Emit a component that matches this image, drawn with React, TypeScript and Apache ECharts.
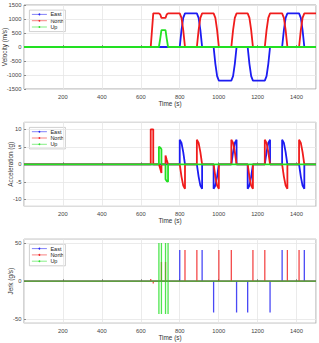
import { useEffect, useRef } from "react";
import * as echarts from "echarts";

type Pt = [number, number];

// Component names and their line colours
const NAMES = ["East", "North", "Up"];
const COLORS = ["#1c1cf2", "#f01c1c", "#22e022"];

// Shared time axis (s)
const TIME_RANGE: [number, number] = [0, 1500];
const TIME_STEP = 200;

// Velocity (m/s)
const velEast: Pt[] = [
  [0, 0], [800, 0], [809, 600], [818, 1040], [827, 1200],
  [888, 1200], [897, 1040], [906, 600], [915, 0],
  [974, 0], [983, -600], [992, -1040], [1001, -1200],
  [1065, -1200], [1074, -1040], [1083, -600], [1092, 0],
  [1149, 0], [1158, -600], [1167, -1040], [1176, -1200],
  [1237, -1200], [1246, -1040], [1255, -600], [1264, 0],
  [1326, 0], [1335, 600], [1344, 1040], [1353, 1200],
  [1413, 1200], [1422, 1040], [1431, 600], [1440, 0],
  [1500, 0],
];
const velNorth: Pt[] = [
  [0, 0], [651, 0], [664, 1200],
  [693, 1200], [700, 1160], [706, 1040], [727, 1040], [733, 1160], [740, 1200],
  [800, 1200], [809, 1040], [818, 600], [827, 0],
  [888, 0], [897, 600], [906, 1040], [915, 1200],
  [974, 1200], [983, 1040], [992, 600], [1001, 0],
  [1065, 0], [1074, 600], [1083, 1040], [1092, 1200],
  [1149, 1200], [1158, 1040], [1167, 600], [1176, 0],
  [1237, 0], [1246, 600], [1255, 1040], [1264, 1200],
  [1326, 1200], [1335, 1040], [1344, 600], [1353, 0],
  [1413, 0], [1422, 600], [1431, 1040], [1440, 1200],
  [1500, 1200],
];
const velUp: Pt[] = [
  [0, 0], [693, 0], [700, 310], [706, 600], [727, 600], [733, 310], [740, 0], [1500, 0],
];

// Acceleration (g)
const accEast: Pt[] = [
  [0, 0],
  [800, 0], [800, 7], [809, 6.1], [818, 3.5], [827, 0],
  [888, 0], [897, -3.5], [906, -6.1], [915, -7], [915, 0],
  [974, 0], [974, -7], [983, -6.1], [992, -3.5], [1001, 0],
  [1065, 0], [1074, 3.5], [1083, 6.1], [1092, 7], [1092, 0],
  [1149, 0], [1149, -7], [1158, -6.1], [1167, -3.5], [1176, 0],
  [1237, 0], [1246, 3.5], [1255, 6.1], [1264, 7], [1264, 0],
  [1326, 0], [1326, 7], [1335, 6.1], [1344, 3.5], [1353, 0],
  [1413, 0], [1422, -3.5], [1431, -6.1], [1440, -7], [1440, 0],
  [1500, 0],
];
const accNorth: Pt[] = [
  [0, 0], [651, 0], [651, 10], [664, 10], [664, 0],
  [693, 0], [700, -1.3], [706, -2.5], [706, 0],
  [727, 0], [727, 2.5], [733, 1.3], [740, 0],
  [800, 0], [809, -3.5], [818, -6.1], [827, -7], [827, 0],
  [888, 0], [888, 7], [897, 6.1], [906, 3.5], [915, 0],
  [974, 0], [983, -3.5], [992, -6.1], [1001, -7], [1001, 0],
  [1065, 0], [1065, 7], [1074, 6.1], [1083, 3.5], [1092, 0],
  [1149, 0], [1158, -3.5], [1167, -6.1], [1176, -7], [1176, 0],
  [1237, 0], [1237, 7], [1246, 6.1], [1255, 3.5], [1264, 0],
  [1326, 0], [1335, -3.5], [1344, -6.1], [1353, -7], [1353, 0],
  [1413, 0], [1413, 7], [1422, 6.1], [1431, 3.5], [1440, 0],
  [1500, 0],
];
const accUp: Pt[] = [
  [0, 0], [693, 0], [693, 5], [700, 4.8], [706, 4.3], [706, 0],
  [727, 0], [727, -4.3], [733, -4.8], [740, -5], [740, 0], [1500, 0],
];

// Jerk (g/s)
const jerkEast: Pt[] = [
  [0, 0],
  [800, 0], [800, 41], [800, 0],
  [915, 0], [915, 41], [915, 0],
  [974, 0], [974, -41], [974, 0],
  [1092, 0], [1092, -41], [1092, 0],
  [1149, 0], [1149, -41], [1149, 0],
  [1264, 0], [1264, -41], [1264, 0],
  [1326, 0], [1326, 41], [1326, 0],
  [1440, 0], [1440, 41], [1440, 0],
  [1500, 0],
];
const jerkNorth: Pt[] = [
  [0, 0], [651, 0], [651, 3], [651, 0], [664, 0], [664, -3], [664, 0],
  [706, 0], [706, 25], [706, 0], [727, 0], [727, 25], [727, 0],
  [827, 0], [827, 41], [827, 0],
  [888, 0], [888, 41], [888, 0],
  [1001, 0], [1001, 41], [1001, 0],
  [1065, 0], [1065, 41], [1065, 0],
  [1176, 0], [1176, 41], [1176, 0],
  [1237, 0], [1237, 41], [1237, 0],
  [1353, 0], [1353, 41], [1353, 0],
  [1413, 0], [1413, 41], [1413, 0],
  [1500, 0],
];
const jerkUp: Pt[] = [
  [0, 0],
  [693, 0], [693, 50], [693, -43], [693, 0],
  [706, 0], [706, 50], [706, -43], [706, 0],
  [727, 0], [727, 50], [727, -43], [727, 0],
  [740, 0], [740, 50], [740, -43], [740, 0],
  [1500, 0],
];

// Panel settings: y range, tick step, axis title, line look
const PANELS = [
  { title: "Velocity (m/s)", range: [-1500, 1500], step: 500, ends: true, gap: 17, width: 1.8, opacity: 1, data: [velEast, velNorth, velUp] },
  { title: "Acceleration (g)", range: [-12, 12], step: 5, ends: false, gap: 10.5, width: 1.8, opacity: 1, data: [accEast, accNorth, accUp] },
  { title: "Jerk (g/s)", range: [-55, 55], step: 50, ends: false, gap: 11, width: 1.3, opacity: 0.8, data: [jerkEast, jerkNorth, jerkUp] },
];

const FONT = "Liberation Sans, Arial, Helvetica, sans-serif";
const GRID_LEFT = 24;
const GRID_WIDTH = 292;
const GRID_HEIGHT = 84;
const GRID_TOPS = [5, 122.3, 239.2];
const TICK_FONT = 5.8;
const NAME_FONT = 6.4;
const LEGEND_FONT = 5.5;

function legendBox(top: number) {
  const children: any[] = [
    {
      type: "rect",
      shape: { x: 0, y: 0, width: 36, height: 21.5 },
      style: { fill: "#ffffff", stroke: "#c4c4c4", lineWidth: 0.8 },
    },
  ];
  NAMES.forEach((name, k) => {
    const y = 4.3 + k * 6.3;
    children.push(
      {
        type: "line",
        shape: { x1: 2.5, y1: y, x2: 17.5, y2: y },
        style: { stroke: COLORS[k], lineWidth: 1, opacity: 0.55 },
      },
      {
        type: "circle",
        shape: { cx: 10, cy: y, r: 0.9 },
        style: { fill: COLORS[k], opacity: 0.9 },
      },
      {
        type: "text",
        x: 21,
        y,
        style: {
          text: name,
          fontSize: LEGEND_FONT,
          fontFamily: FONT,
          fill: "#222",
          verticalAlign: "middle",
          align: "left",
        },
      }
    );
  });
  return { type: "group", left: 29, top: top + 4.7, children, z: 100 };
}

export default function App() {
  const ref = useRef<HTMLDivElement>(null);

  useEffect(() => {
    if (!ref.current) return;
    const chart = echarts.init(ref.current, undefined, { renderer: "svg" });

    const grid = GRID_TOPS.map((top) => ({
      left: GRID_LEFT,
      top,
      width: GRID_WIDTH,
      height: GRID_HEIGHT,
      outerBoundsMode: "none",
      containLabel: false,
      show: true,
      backgroundColor: "#ffffff",
      borderColor: "#a9a9a9",
      borderWidth: 1,
    }));

    const xAxis = PANELS.map((_, i) => ({
      type: "value",
      gridIndex: i,
      min: TIME_RANGE[0],
      max: TIME_RANGE[1],
      interval: TIME_STEP,
      name: "Time (s)",
      nameLocation: "middle",
      nameGap: 11.5,
      nameMoveOverlap: false,
      nameTextStyle: { fontSize: NAME_FONT, fontFamily: FONT, color: "#333" },
      axisLine: { show: false },
      axisTick: { show: true, inside: true, length: 2, lineStyle: { color: "#888" } },
      axisLabel: {
        fontSize: TICK_FONT,
        fontFamily: FONT,
        color: "#444",
        margin: 4.5,
        showMinLabel: false,
        showMaxLabel: false,
        formatter: (v: number) => String(v),
      },
      splitLine: { show: true, lineStyle: { color: "#e6e6e6", width: 0.8 } },
    }));

    const yAxis = PANELS.map((p, i) => ({
      type: "value",
      gridIndex: i,
      min: p.range[0],
      max: p.range[1],
      minInterval: p.step,
      maxInterval: p.step,
      name: p.title,
      nameLocation: "middle",
      nameRotate: 90,
      nameGap: p.gap,
      nameMoveOverlap: false,
      nameTextStyle: { fontSize: NAME_FONT, fontFamily: FONT, color: "#333" },
      axisLine: { show: false },
      axisTick: { show: true, inside: true, length: 2, lineStyle: { color: "#888" } },
      axisLabel: {
        fontSize: TICK_FONT,
        fontFamily: FONT,
        color: "#444",
        margin: 2.5,
        showMinLabel: p.ends,
        showMaxLabel: p.ends,
        formatter: (v: number) => String(v),
      },
      splitLine: { show: true, lineStyle: { color: "#e6e6e6", width: 0.8 } },
    }));

    const series: any[] = [];
    PANELS.forEach((p, i) => {
      p.data.forEach((d, k) => {
        series.push({
          type: "line",
          name: NAMES[k],
          xAxisIndex: i,
          yAxisIndex: i,
          data: d,
          symbol: "none",
          showSymbol: false,
          clip: true,
          silent: true,
          z: 2 + k,
          lineStyle: { color: COLORS[k], width: p.width, opacity: p.opacity },
          itemStyle: { color: COLORS[k] },
        });
      });
    });

    chart.setOption({
      animation: false,
      backgroundColor: "#ffffff",
      textStyle: { fontFamily: FONT },
      grid,
      xAxis,
      yAxis,
      series,
      graphic: GRID_TOPS.map((t) => legendBox(t)),
    });

    return () => chart.dispose();
  }, []);

  return (
    <div
      ref={ref}
      style={{ position: "absolute", left: 0, top: 0, width: 319, height: 343, background: "#fff" }}
    />
  );
}
